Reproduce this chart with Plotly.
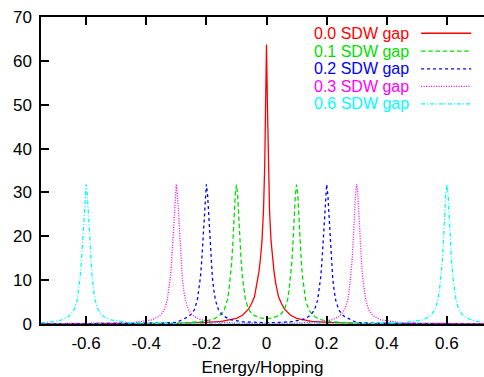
import plotly.graph_objects as go

# ---- data ----
x_gap00 = [-0.75,-0.5,-0.3,-0.2,-0.15,-0.1,-0.08,-0.06,-0.05,-0.04,-0.03,-0.025,-0.02,-0.015,-0.01,-0.006,-0.003,0,
           0.003,0.006,0.01,0.015,0.02,0.025,0.03,0.04,0.05,0.06,0.08,0.1,0.15,0.2,0.3,0.5,0.75]
y_gap00 = [0.03,0.06,0.15,0.35,0.6,1.3,2.0,3.4,4.6,6.2,9.5,12,15,19,26,36,50,63.7,
           50,36,26,19,15,12,9.5,6.2,4.6,3.4,2.0,1.3,0.6,0.35,0.15,0.06,0.03]

x_gap01 = [-0.75,-0.5,-0.3,-0.22,-0.18,-0.16,-0.15,-0.14,-0.13,-0.125,-0.12,-0.116,-0.112,-0.108,-0.104,-0.1,
           -0.096,-0.092,-0.088,-0.084,-0.08,-0.075,-0.07,-0.06,-0.05,-0.04,-0.02,0,
           0.02,0.04,0.05,0.06,0.07,0.075,0.08,0.084,0.088,0.092,0.096,0.1,
           0.104,0.108,0.112,0.116,0.12,0.125,0.13,0.14,0.15,0.16,0.18,0.22,0.3,0.5,0.75]
y_gap01 = [0.04,0.07,0.2,0.5,1.0,1.7,2.3,3.3,5.5,7.7,10.6,13.9,18.4,24.1,29.5,31.8,
           29.5,24.1,18.4,13.9,10.6,7.7,5.5,3.4,2.4,1.9,1.4,1.2,
           1.4,1.9,2.4,3.4,5.5,7.7,10.6,13.9,18.4,24.1,29.5,31.8,
           29.5,24.1,18.4,13.9,10.6,7.7,5.5,3.3,2.3,1.7,1.0,0.5,0.2,0.07,0.04]

x_gap02 = [-0.75,-0.6,-0.45,-0.35,-0.3,-0.28,-0.26,-0.25,-0.24,-0.23,-0.225,-0.22,-0.216,-0.212,-0.208,-0.204,-0.2,
           -0.196,-0.192,-0.188,-0.184,-0.18,-0.175,-0.17,-0.16,-0.15,-0.14,-0.12,-0.08,-0.04,0,
           0.04,0.08,0.12,0.14,0.15,0.16,0.17,0.175,0.18,0.184,0.188,0.192,0.196,0.2,
           0.204,0.208,0.212,0.216,0.22,0.225,0.23,0.24,0.25,0.26,0.28,0.3,0.35,0.45,0.6,0.75]
y_gap02 = [0.03,0.05,0.1,0.2,0.35,0.95,1.65,2.25,3.25,5.45,7.65,10.55,13.85,18.35,24.05,29.45,31.85,
           29.45,24.05,18.35,13.85,10.55,7.65,5.45,3.3,2.3,1.7,1.0,0.5,0.35,0.3,
           0.35,0.5,1.0,1.7,2.3,3.3,5.45,7.65,10.55,13.85,18.35,24.05,29.45,31.85,
           29.45,24.05,18.35,13.85,10.55,7.65,5.45,3.25,2.25,1.65,0.95,0.35,0.2,0.1,0.05,0.03]

x_gap03 = [-0.75,-0.6,-0.45,-0.38,-0.36,-0.35,-0.34,-0.33,-0.325,-0.32,-0.316,-0.312,-0.308,-0.304,-0.3,
           -0.296,-0.292,-0.288,-0.284,-0.28,-0.275,-0.27,-0.26,-0.25,-0.24,-0.22,-0.18,-0.1,0,
           0.1,0.18,0.22,0.24,0.25,0.26,0.27,0.275,0.28,0.284,0.288,0.292,0.296,0.3,
           0.304,0.308,0.312,0.316,0.32,0.325,0.33,0.34,0.35,0.36,0.38,0.45,0.6,0.75]
y_gap03 = [0.04,0.08,0.27,0.95,1.65,2.25,3.25,5.45,7.65,10.55,13.85,18.35,24.05,29.45,31.85,
           29.45,24.05,18.35,13.85,10.55,7.65,5.45,3.3,2.3,1.7,1.0,0.5,0.2,0.14,
           0.2,0.5,1.0,1.7,2.3,3.3,5.45,7.65,10.55,13.85,18.35,24.05,29.45,31.85,
           29.45,24.05,18.35,13.85,10.55,7.65,5.45,3.25,2.25,1.65,0.95,0.27,0.08,0.04]

x_gap06 = [-0.75,-0.7,-0.68,-0.66,-0.65,-0.64,-0.63,-0.625,-0.62,-0.616,-0.612,-0.608,-0.604,-0.6,
           -0.596,-0.592,-0.588,-0.584,-0.58,-0.575,-0.57,-0.56,-0.55,-0.54,-0.52,-0.45,-0.3,0,
           0.3,0.45,0.52,0.54,0.55,0.56,0.57,0.575,0.58,0.584,0.588,0.592,0.596,0.6,
           0.604,0.608,0.612,0.616,0.62,0.625,0.63,0.64,0.65,0.66,0.68,0.7,0.75]
y_gap06 = [0.27,0.6,0.95,1.65,2.25,3.25,5.45,7.65,10.55,13.85,18.35,24.05,29.45,31.85,
           29.45,24.05,18.35,13.85,10.55,7.65,5.45,3.25,2.25,1.65,0.95,0.27,0.07,0.03,
           0.07,0.27,0.95,1.65,2.25,3.25,5.45,7.65,10.55,13.85,18.35,24.05,29.45,31.85,
           29.45,24.05,18.35,13.85,10.55,7.65,5.45,3.25,2.25,1.65,0.95,0.6,0.27]

series_names = ["0.0 SDW gap", "0.1 SDW gap", "0.2 SDW gap", "0.3 SDW gap", "0.6 SDW gap"]
x_ticks = [-0.6, -0.4, -0.2, 0, 0.2, 0.4, 0.6]
x_tick_labels = ["-0.6", "-0.4", "-0.2", "0", "0.2", "0.4", "0.6"]
y_ticks = [0, 10, 20, 30, 40, 50, 60, 70]

# ---- styles ----
colors = ["#ff0000", "#00e000", "#0000ff", "#ff00ff", "#00ffff"]
dashes = ["solid", "4.5px,2.7px", "3px,3px", "1px,1.5px", "4px,2px,1px,2px"]
xs = [x_gap00, x_gap01, x_gap02, x_gap03, x_gap06]
ys = [y_gap00, y_gap01, y_gap02, y_gap03, y_gap06]

FONT = "Liberation Sans, Arial, Helvetica, sans-serif"
fig = go.Figure()
for x, y, c, d, n in zip(xs, ys, colors, dashes, series_names):
    fig.add_trace(go.Scatter(x=x, y=y, mode="lines", name=n,
                             line=dict(color=c, width=1.3, dash=d), showlegend=False))

# custom legend: text on left, sample line on right (gnuplot style)
row_y = [0.947, 0.889, 0.831, 0.774, 0.717]
for n, c, d, ry in zip(series_names, colors, dashes, row_y):
    fig.add_annotation(xref="paper", yref="paper", x=0.833, y=ry, text=n, showarrow=False,
                       xanchor="right", yanchor="middle", borderpad=0,
                       font=dict(color=c, size=16, family=FONT))
    fig.add_shape(type="line", xref="paper", yref="paper", x0=0.858, x1=0.971, y0=ry, y1=ry,
                  line=dict(color=c, width=1.3, dash=d))

fig.update_layout(
    width=484, height=377,
    margin=dict(l=41, r=0, t=17, b=53),
    paper_bgcolor="white", plot_bgcolor="white",
    font=dict(family=FONT, size=17, color="black"),
    xaxis=dict(range=[-0.75, 0.7233], tickvals=x_ticks, ticktext=x_tick_labels,
               ticks="inside", ticklen=8, tickwidth=1.5, tickcolor="black",
               showline=True, linecolor="black", linewidth=1.5, mirror="ticks",
               showgrid=False, zeroline=False, automargin=False, ticklabelstandoff=3,
               title=dict(text="Energy/Hopping", font=dict(size=17))),
    yaxis=dict(range=[0, 70], tickvals=y_ticks, automargin=False,
               ticks="inside", ticklen=8, tickwidth=1.5, tickcolor="black",
               showline=True, linecolor="black", linewidth=1.5, mirror=False,
               showgrid=False, zeroline=False, ticklabelstandoff=4),
)
fig.write_html("out.html", config={"displayModeBar": False},
               post_script="document.body.style.margin='0';document.body.style.overflow='hidden';")
